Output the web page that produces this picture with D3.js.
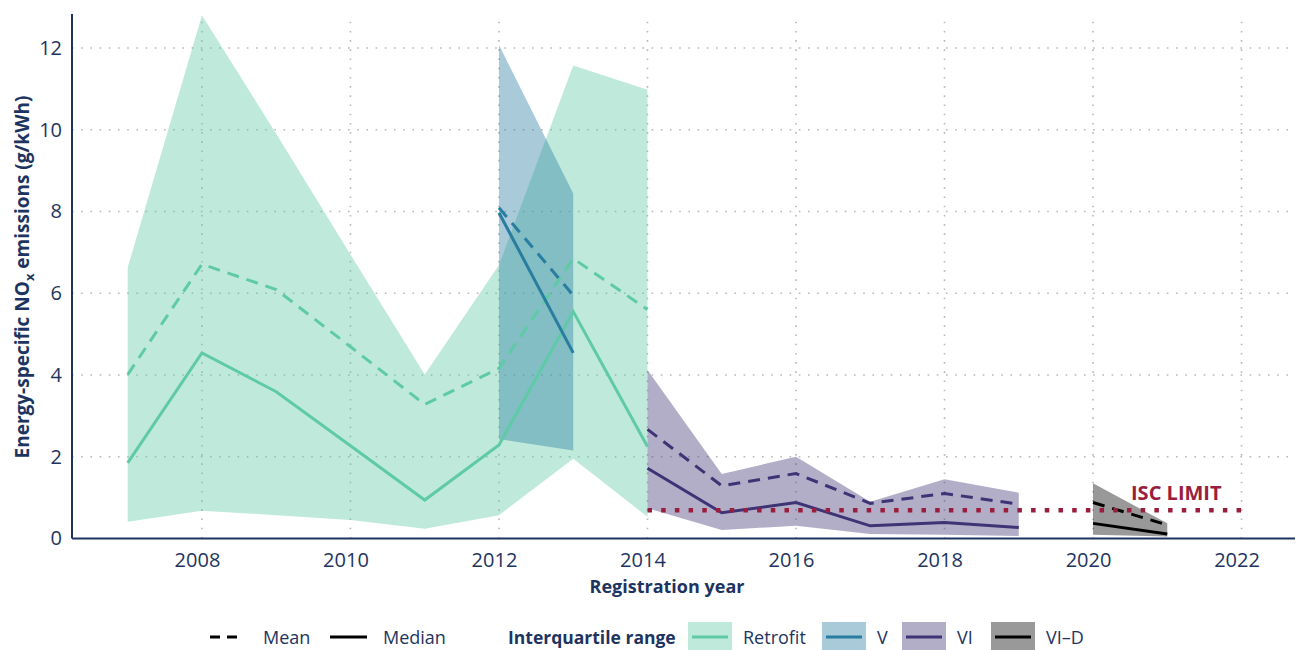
<!DOCTYPE html>
<html>
<head>
<meta charset="utf-8">
<script src="https://cdn.jsdelivr.net/npm/d3@7"></script>
<style>
  body { margin: 0; background: #fff; }
  text { font-family: "Open Sans", sans-serif; fill: #1d3461; }
</style>
</head>
<body>
<div id="chart"></div>
<script>
// values
var retrofitYears = [2007, 2008, 2009, 2010, 2011, 2012, 2013, 2014];
var retrofitLower = [0.41, 0.68, 0.57, 0.45, 0.24, 0.57, 1.95, 0.53];
var retrofitUpper = [6.63, 12.8, 9.9, 6.95, 4.01, 6.69, 11.57, 10.98];
var retrofitMean = [4.01, 6.71, 6.09, 4.69, 3.28, 4.16, 6.85, 5.6];
var retrofitMedian = [1.85, 4.54, 3.59, 2.27, 0.94, 2.29, 5.55, 2.25];

var vYears = [2012, 2013];
var vLower = [2.43, 2.15];
var vUpper = [12.07, 8.44];
var vMean = [8.09, 5.95];
var vMedian = [7.97, 4.54];

var viYears = [2014, 2015, 2016, 2017, 2018, 2019];
var viLower = [0.74, 0.21, 0.31, 0.11, 0.09, 0.06];
var viUpper = [4.12, 1.58, 2.0, 0.9, 1.45, 1.12];
var viMean = [2.67, 1.29, 1.59, 0.86, 1.1, 0.84];
var viMedian = [1.72, 0.63, 0.88, 0.31, 0.39, 0.27];

var vidYears = [2020, 2021];
var vidLower = [0.09, 0.05];
var vidUpper = [1.35, 0.37];
var vidMean = [0.88, 0.33];
var vidMedian = [0.37, 0.11];

var iscLimit = 0.69;
var iscYears = [2014, 2022];

var xTicks = [2008, 2010, 2012, 2014, 2016, 2018, 2020, 2022];
var yTicks = [0, 2, 4, 6, 8, 10, 12];

var groupNames = ["Retrofit", "V", "VI", "VI\u2013D"];
var groupColors = ["#5fcaa6", "#287da0", "#3e3475", "#000000"];

var w = 1300, h = 650;
var navy = "#1d3461";

var svg = d3.select("#chart")
    .append("svg")
    .attr("width", w)
    .attr("height", h);

var x = d3.scaleLinear().domain([2006.25, 2022.72]).range([72, 1295]);
var y = d3.scaleLinear().domain([0, 12.83]).range([538.5, 14]);

//dotted grid lines
var grid = svg.append("g");
grid.selectAll("line.h")
    .data(yTicks.filter(function (d) { return d > 0; }))
    .enter()
    .append("line")
    .attr("x1", x.range()[0]).attr("x2", x.range()[1])
    .attr("y1", function (d) { return y(d); })
    .attr("y2", function (d) { return y(d); });
grid.selectAll("line.v")
    .data(xTicks)
    .enter()
    .append("line")
    .attr("x1", function (d) { return x(d); })
    .attr("x2", function (d) { return x(d); })
    .attr("y1", y.range()[0]).attr("y2", y.range()[1]);
grid.selectAll("line")
    .style("stroke", "#b8b8b8")
    .style("stroke-width", 1.6)
    .style("stroke-dasharray", "1.6,7.6");

//build the groups from the arrays
var groups = [
    { years: retrofitYears, lo: retrofitLower, hi: retrofitUpper, mean: retrofitMean, med: retrofitMedian },
    { years: vYears, lo: vLower, hi: vUpper, mean: vMean, med: vMedian },
    { years: viYears, lo: viLower, hi: viUpper, mean: viMean, med: viMedian },
    { years: vidYears, lo: vidLower, hi: vidUpper, mean: vidMean, med: vidMedian }
];
groups.forEach(function (g, i) {
    g.color = groupColors[i];
    g.rows = g.years.map(function (yr, j) {
        return { year: yr, lo: g.lo[j], hi: g.hi[j], mean: g.mean[j], med: g.med[j] };
    });
});

var area = d3.area()
    .x(function (d) { return x(d.year); })
    .y0(function (d) { return y(d.lo); })
    .y1(function (d) { return y(d.hi); });

//interquartile ribbons first
svg.append("g").selectAll("path")
    .data(groups)
    .enter()
    .append("path")
    .attr("d", function (g) { return area(g.rows); })
    .style("fill", function (g) { return g.color; })
    .style("fill-opacity", 0.4);

var meanLine = d3.line()
    .x(function (d) { return x(d.year); })
    .y(function (d) { return y(d.mean); });
var medLine = d3.line()
    .x(function (d) { return x(d.year); })
    .y(function (d) { return y(d.med); });

var lines = svg.append("g");
groups.forEach(function (g) {
    lines.append("path")
        .attr("d", meanLine(g.rows))
        .style("fill", "none")
        .style("stroke", g.color)
        .style("stroke-width", 3)
        .style("stroke-dasharray", "12,8");
    lines.append("path")
        .attr("d", medLine(g.rows))
        .style("fill", "none")
        .style("stroke", g.color)
        .style("stroke-width", 3);
});

//ISC limit
svg.append("line")
    .attr("x1", x(iscYears[0])).attr("x2", x(iscYears[1]))
    .attr("y1", y(iscLimit)).attr("y2", y(iscLimit))
    .style("stroke", "#9b1d3d")
    .style("stroke-width", 4.5)
    .style("stroke-dasharray", "4.5,9.2");
svg.append("text")
    .attr("x", 1131)
    .attr("y", 500)
    .style("font-weight", "bold")
    .style("font-size", "20px")
    .style("fill", "#9b1d3d")
    .text("ISC LIMIT");

//axes
var xAxis = svg.append("g")
    .attr("transform", "translate(0," + y(0) + ")")
    .call(d3.axisBottom(x).tickValues(xTicks).tickFormat(d3.format("d")).tickSize(0).tickPadding(14));
xAxis.select(".domain").attr("d", "M" + x.range()[0] + ",0H" + x.range()[1]);
xAxis.selectAll("text").attr("dx", -5);

var yAxis = svg.append("g")
    .attr("transform", "translate(" + x.range()[0] + ",0)")
    .call(d3.axisLeft(y).tickValues(yTicks).tickSize(0).tickPadding(10));
yAxis.select(".domain").attr("d", "M0," + y.range()[1] + "V" + y.range()[0]);

svg.selectAll(".domain").style("stroke", navy).style("stroke-width", 2);
svg.selectAll(".tick text")
    .style("font-family", "'Open Sans', sans-serif")
    .style("font-size", "20px")
    .style("fill", navy);

//axis titles
svg.append("text")
    .attr("x", 667)
    .attr("y", 593)
    .attr("text-anchor", "middle")
    .style("font-weight", "bold")
    .style("font-size", "18px")
    .text("Registration year");

var yTitle = svg.append("text")
    .attr("transform", "translate(29,277) rotate(-90)")
    .attr("text-anchor", "middle")
    .style("font-weight", "bold")
    .style("font-size", "19px");
yTitle.append("tspan").text("Energy-specific NO");
yTitle.append("tspan").attr("dy", 5).style("font-size", "13px").text("x");
yTitle.append("tspan").attr("dy", -5).text(" emissions (g/kWh)");

//legend
var leg = svg.append("g").attr("transform", "translate(0,637)");
leg.append("line").attr("x1", 210).attr("x2", 244)
    .style("stroke", "#000").style("stroke-width", 3).style("stroke-dasharray", "10,7");
leg.append("text").attr("x", 263).attr("y", 7).style("font-size", "18px").text("Mean");
leg.append("line").attr("x1", 330).attr("x2", 367)
    .style("stroke", "#000").style("stroke-width", 3);
leg.append("text").attr("x", 383).attr("y", 7).style("font-size", "18px").text("Median");
leg.append("text").attr("x", 508).attr("y", 7)
    .style("font-size", "17.5px").style("font-weight", "bold").text("Interquartile range");

var keyX = [688, 822, 902, 991];
groups.forEach(function (g, i) {
    var k = leg.append("g").attr("transform", "translate(" + keyX[i] + ",0)");
    k.append("rect").attr("x", 0).attr("y", -15).attr("width", 44).attr("height", 29)
        .style("fill", g.color).style("fill-opacity", 0.4);
    k.append("line").attr("x1", 4).attr("x2", 40)
        .style("stroke", g.color).style("stroke-width", 3);
    k.append("text").attr("x", 55).attr("y", 7).style("font-size", "18px").text(groupNames[i]);
});
</script>
</body>
</html>
